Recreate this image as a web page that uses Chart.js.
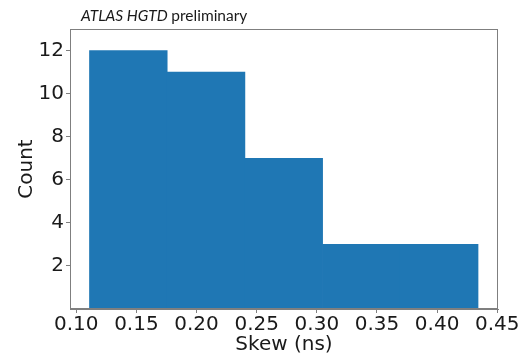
<!DOCTYPE html>
<html>
<head>
<meta charset="utf-8">
<script src="https://cdn.jsdelivr.net/npm/chart.js@4/dist/chart.umd.min.js"></script>
<style>
  html, body { margin: 0; padding: 0; background: #ffffff; }
  #wrap { width: 523px; height: 353px; }
</style>
</head>
<body>
<div id="wrap"><canvas id="c" width="523" height="353"></canvas></div>
<script>
// Histogram of clock skew: bin edges (ns) and counts per bin
const binEdges = [0.111, 0.1756, 0.2402, 0.3048, 0.3694, 0.434];
const counts = [12, 11, 7, 3, 3];
const xTickValues = [0.10, 0.15, 0.20, 0.25, 0.30, 0.35, 0.40, 0.45];
const yTickValues = [2, 4, 6, 8, 10, 12];

const binCenters = counts.map((_, i) => (binEdges[i] + binEdges[i + 1]) / 2);
const points = counts.map((c, i) => ({ x: binCenters[i], y: c }));

const TICK_FONT = { family: 'DejaVu Sans', size: 20 };
const TEXT = '#1a1a1a';
const FRAME = '#7f7f7f';

// Axes frame on all four sides plus the caption above the plot
const decorations = {
  id: 'decorations',
  afterDraw(chart) {
    const { ctx, chartArea: a } = chart;
    ctx.save();
    ctx.strokeStyle = FRAME;
    ctx.lineWidth = 1;
    ctx.strokeRect(a.left + 0.5, a.top + 0.5, a.right - a.left - 1, a.bottom - a.top - 1);

    ctx.fillStyle = TEXT;
    ctx.textBaseline = 'alphabetic';
    ctx.textAlign = 'left';
    const x0 = 81, y0 = 21;
    ctx.font = 'italic 15.5px Lato';
    const part1 = 'ATLAS HGTD ';
    ctx.fillText(part1, x0, y0);
    const w1 = ctx.measureText(part1).width;
    ctx.font = '15.5px Lato';
    ctx.fillText('preliminary', x0 + w1, y0);
    ctx.restore();
  }
};

new Chart(document.getElementById('c'), {
  type: 'bar',
  data: {
    datasets: [{
      data: points,
      backgroundColor: '#1f77b4',
      borderWidth: 0,
      barThickness: 'flex',
      barPercentage: 1.0,
      categoryPercentage: 1.0
    }]
  },
  options: {
    responsive: false,
    animation: false,
    layout: { padding: { left: 0, right: 25, top: 29, bottom: 0 } },
    plugins: { legend: { display: false }, tooltip: { enabled: false } },
    scales: {
      x: {
        type: 'linear',
        offset: false,
        min: 0.0948,
        max: 0.4506,
        afterBuildTicks(scale) { scale.ticks = xTickValues.map(v => ({ value: v })); },
        afterFit(scale) { scale.height = 44; },
        ticks: {
          autoSkip: false,
          maxRotation: 0,
          padding: 0,
          color: TEXT,
          font: TICK_FONT,
          callback: v => Number(v).toFixed(2)
        },
        grid: { offset: false, drawOnChartArea: false, drawTicks: true, tickLength: 4, color: FRAME },
        border: { display: true, color: FRAME },
        title: { display: true, text: 'Skew (ns)', color: TEXT, font: TICK_FONT, padding: { top: 0, bottom: -4 } }
      },
      y: {
        min: 0,
        max: 13,
        afterBuildTicks(scale) { scale.ticks = yTickValues.map(v => ({ value: v })); },
        afterFit(scale) { scale.width = 70; },
        ticks: { padding: 2, color: TEXT, font: TICK_FONT },
        grid: { drawOnChartArea: false, drawTicks: true, tickLength: 4, color: FRAME },
        border: { display: true, color: FRAME },
        title: { display: true, text: 'Count', color: TEXT, font: TICK_FONT, padding: { top: 15, bottom: 0 } }
      }
    }
  },
  plugins: [decorations]
});
</script>
</body>
</html>
